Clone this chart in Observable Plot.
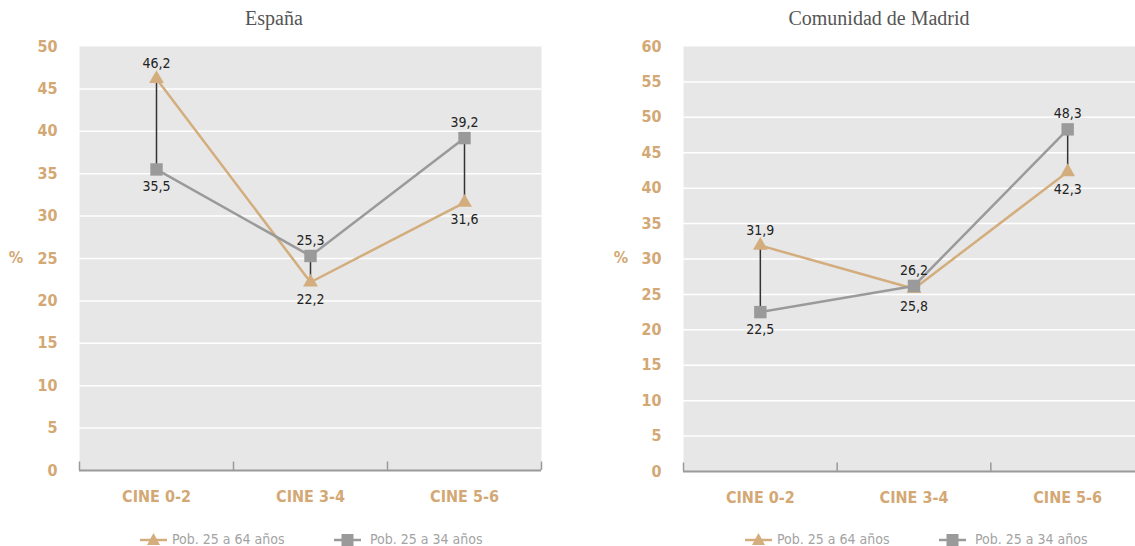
<!DOCTYPE html>
<html>
<head>
<meta charset="utf-8">
<script src="https://cdn.jsdelivr.net/npm/d3@7"></script>
<script src="https://cdn.jsdelivr.net/npm/@observablehq/plot@0.6"></script>
<style>
  body { margin: 0; width: 1135px; height: 546px; overflow: hidden; background: #fff; position: relative; }
  .abs { position: absolute; white-space: nowrap; }
  .holder { width: 560px; height: 490px; }
  .holder svg { max-width: none !important; }
  .title { font-family: "Liberation Serif", "DejaVu Serif", serif; font-size: 20px; color: #555; transform: translateX(-50%); top: 6px; line-height: 24px; }
  .pct { font-family: "DejaVu Sans Condensed", "DejaVu Sans", sans-serif; font-weight: bold; font-size: 16px; color: #d3a874; top: 248px; transform: translateX(-50%); }
  .leg { font-family: "DejaVu Sans Condensed", "DejaVu Sans", sans-serif; font-size: 14px; color: #a3a3a3; top: 531px; line-height: 16px; }
</style>
</head>
<body>
<script>
// ---- data ----
const categories = ["CINE 0-2", "CINE 3-4", "CINE 5-6"];
const seriesNames = ["Pob. 25 a 64 años", "Pob. 25 a 34 años"];
const espana25a64 = [46.2, 22.2, 31.6];
const espana25a34 = [35.5, 25.3, 39.2];
const madrid25a64 = [31.9, 25.8, 42.3];
const madrid25a34 = [22.5, 26.2, 48.3];
const panelTitles = ["España", "Comunidad de Madrid"];
const yMaxes = [50, 60];

// ---- styles ----
const TAN = "#d3a874";
const TAN_LINE = "#d4ad7e";
const GRAY = "#9a9a9a";
const BG = "#e6e7e6";
const FONT = "'DejaVu Sans Condensed', 'DejaVu Sans', sans-serif";
const fmt = v => v.toFixed(1).replace(".", ",");

function panel(cfg) {
  const {a, b, yMax, left, marginLeft, marginRight, marginBottom} = cfg;
  const rowsA = categories.map((c, i) => ({idx: i + 0.5, v: a[i], other: b[i]}));
  const rowsB = categories.map((c, i) => ({idx: i + 0.5, v: b[i], other: a[i]}));
  const all = rowsA.concat(rowsB);
  const pairs = categories.map((c, i) => ({idx: i + 0.5, lo: Math.min(a[i], b[i]), hi: Math.max(a[i], b[i])}));
  const above = all.filter(r => r.v >= r.other);
  const below = all.filter(r => r.v < r.other);
  const chart = Plot.plot({
    width: 560,
    height: 490,
    marginTop: 16,
    marginBottom,
    marginLeft,
    marginRight,
    style: {color: TAN, fontFamily: FONT, fontSize: "16px", fontWeight: "bold", background: "transparent", overflow: "visible", maxWidth: "none"},
    x: {domain: [0, categories.length], ticks: categories.map((c, i) => i + 0.5), tickFormat: v => categories[Math.floor(v)], tickSize: 0, tickPadding: 20, label: null},
    y: {domain: [0, yMax], ticks: d3.range(0, yMax + 1, 5), tickSize: 0, tickPadding: 22, label: null},
    marks: [
      Plot.frame({fill: BG, stroke: "none"}),
      Plot.ruleY(d3.range(5, yMax, 5), {stroke: "white", strokeWidth: 1.5}),
      Plot.ruleY([0], {stroke: GRAY, strokeWidth: 2}),
      Plot.ruleX(d3.range(0, categories.length + 1), {x: d => d, y1: 0, y2: yMax * 0.02, stroke: GRAY, strokeWidth: 1.5}),
      Plot.ruleX(pairs, {x: "idx", y1: "lo", y2: "hi", stroke: "#333", strokeWidth: 1.5}),
      Plot.line(rowsA, {x: "idx", y: "v", stroke: TAN_LINE, strokeWidth: 2.5}),
      Plot.dot(rowsA, {x: "idx", y: "v", symbol: "triangle", r: 5.5, fill: TAN_LINE}),
      Plot.line(rowsB, {x: "idx", y: "v", stroke: GRAY, strokeWidth: 2.5}),
      Plot.dot(rowsB, {x: "idx", y: "v", symbol: "square", r: 7, fill: GRAY}),
      Plot.text(above, {x: "idx", y: "v", text: d => fmt(d.v), lineAnchor: "bottom", dy: -11, fill: "#222", fontWeight: "normal", fontSize: 14}),
      Plot.text(below, {x: "idx", y: "v", text: d => fmt(d.v), lineAnchor: "top", dy: 12, fill: "#222", fontWeight: "normal", fontSize: 14})
    ]
  });
  const holder = document.createElement("div");
  holder.className = "abs holder";
  holder.style.left = left + "px";
  holder.style.top = "30px";
  holder.appendChild(chart);
  document.body.appendChild(holder);
}

panel({a: espana25a64, b: espana25a34, yMax: yMaxes[0], left: 0, marginLeft: 79, marginRight: 19, marginBottom: 50});
panel({a: madrid25a64, b: madrid25a34, yMax: yMaxes[1], left: 600, marginLeft: 83, marginRight: 16, marginBottom: 49});

function addText(cls, text, x) {
  const d = document.createElement("div");
  d.className = "abs " + cls;
  d.style.left = x + "px";
  d.textContent = text;
  document.body.appendChild(d);
  return d;
}
addText("title", panelTitles[0], 274);
addText("title", panelTitles[1], 879);
addText("pct", "%", 16);
addText("pct", "%", 621);

function legendItem(x, symbol, color, label) {
  const d = document.createElement("div");
  d.className = "abs leg";
  d.style.left = x + "px";
  const icon = symbol === "triangle"
    ? `<svg width="27" height="14" style="vertical-align:-2px;margin-right:5px"><line x1="0" x2="27" y1="8" y2="8" stroke="${color}" stroke-width="2.5"/><path d="M13.5 1 L20 13 L7 13 Z" fill="${color}"/></svg>`
    : `<svg width="27" height="14" style="vertical-align:-2px;margin-right:9px"><line x1="0" x2="27" y1="8" y2="8" stroke="${color}" stroke-width="2.5"/><rect x="7.5" y="2" width="12" height="12" fill="${color}"/></svg>`;
  d.innerHTML = icon + label;
  document.body.appendChild(d);
}
legendItem(140, "triangle", TAN_LINE, seriesNames[0]);
legendItem(334, "square", GRAY, seriesNames[1]);
legendItem(745, "triangle", TAN_LINE, seriesNames[0]);
legendItem(939, "square", GRAY, seriesNames[1]);
</script>
</body>
</html>
